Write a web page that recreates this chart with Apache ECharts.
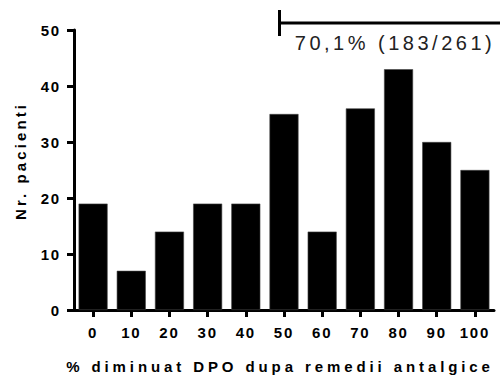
<!DOCTYPE html>
<html>
<head>
<meta charset="utf-8">
<script src="https://cdn.jsdelivr.net/npm/echarts@6/dist/echarts.min.js"></script>
<style>
  html, body { margin: 0; padding: 0; background: #fff; }
  #chart { width: 500px; height: 376px; }
</style>
</head>
<body>
<div id="chart"></div>
<script>
// ---- data ----
var categories = ['0', '10', '20', '30', '40', '50', '60', '70', '80', '90', '100'];
var patients = [19, 7, 14, 19, 19, 35, 14, 36, 43, 30, 25];
var yTicks = { min: 0, max: 50, interval: 10 };
var xAxisTitle = '% diminuat DPO dupa remedii antalgice';
var yAxisTitle = 'Nr. pacienti';
var annotationText = '70,1% (183/261)';

var FONT = 'Arial, "Liberation Sans", sans-serif';

var chart = echarts.init(document.getElementById('chart'), null, { renderer: 'svg' });

var option = {
  animation: false,
  backgroundColor: '#fff',
  grid: { left: 74, right: 6, top: 30, bottom: 66, containLabel: false, outerBoundsMode: 'none' },
  xAxis: {
    type: 'category',
    data: categories,
    name: xAxisTitle,
    nameLocation: 'middle',
    nameGap: 49,
    nameTextStyle: { fontFamily: FONT, fontWeight: 'bold', fontSize: 15, color: '#000', padding: [0, 8, 0, 0] },
    axisLine: { show: true, lineStyle: { color: '#000', width: 3 } },
    axisTick: { show: true, alignWithLabel: true, length: 7, lineStyle: { color: '#000', width: 3 } },
    axisLabel: { fontFamily: FONT, fontWeight: 'bold', fontSize: 15, color: '#000', margin: 15, interval: 0 },
    splitLine: { show: false }
  },
  yAxis: {
    type: 'value',
    min: yTicks.min,
    max: yTicks.max,
    interval: yTicks.interval,
    name: yAxisTitle,
    nameLocation: 'middle',
    nameGap: 46,
    nameTextStyle: { fontFamily: FONT, fontWeight: 'bold', fontSize: 15, color: '#000', padding: [0, 0, 0, 18] },
    axisLine: { show: true, lineStyle: { color: '#000', width: 3 } },
    axisTick: { show: true, length: 7, lineStyle: { color: '#000', width: 3 } },
    axisLabel: { fontFamily: FONT, fontWeight: 'bold', fontSize: 15, color: '#000', margin: 13 },
    splitLine: { show: false }
  },
  series: [{
    type: 'bar',
    data: patients,
    barCategoryGap: '24%',
    itemStyle: { color: '#000', borderColor: '#444', borderWidth: 0.6 }
  }],
  graphic: [
    { type: 'line', shape: { x1: 278, y1: 23, x2: 500, y2: 23 }, style: { stroke: '#000', lineWidth: 3 } },
    { type: 'line', shape: { x1: 279.5, y1: 10, x2: 279.5, y2: 36 }, style: { stroke: '#000', lineWidth: 3 } },
    { type: 'text', x: 395, y: 43, style: { text: annotationText, fontFamily: FONT, fontSize: 20, fill: '#222', align: 'center', verticalAlign: 'middle' } }
  ]
};

function applySpacing() {
  var texts = document.querySelectorAll('#chart text');
  texts.forEach(function (t) {
    var s = t.textContent;
    var ls = null;
    if (/^\d+$/.test(s)) ls = '1.8px';
    else if (s === yAxisTitle) ls = '3.1px';
    else if (s === xAxisTitle) ls = '3.9px';
    else if (s === annotationText) ls = '3.5px';
    if (ls) t.setAttribute('letter-spacing', ls);
  });
}
chart.on('finished', applySpacing);
chart.setOption(option);
setTimeout(applySpacing, 50);
</script>
</body>
</html>
